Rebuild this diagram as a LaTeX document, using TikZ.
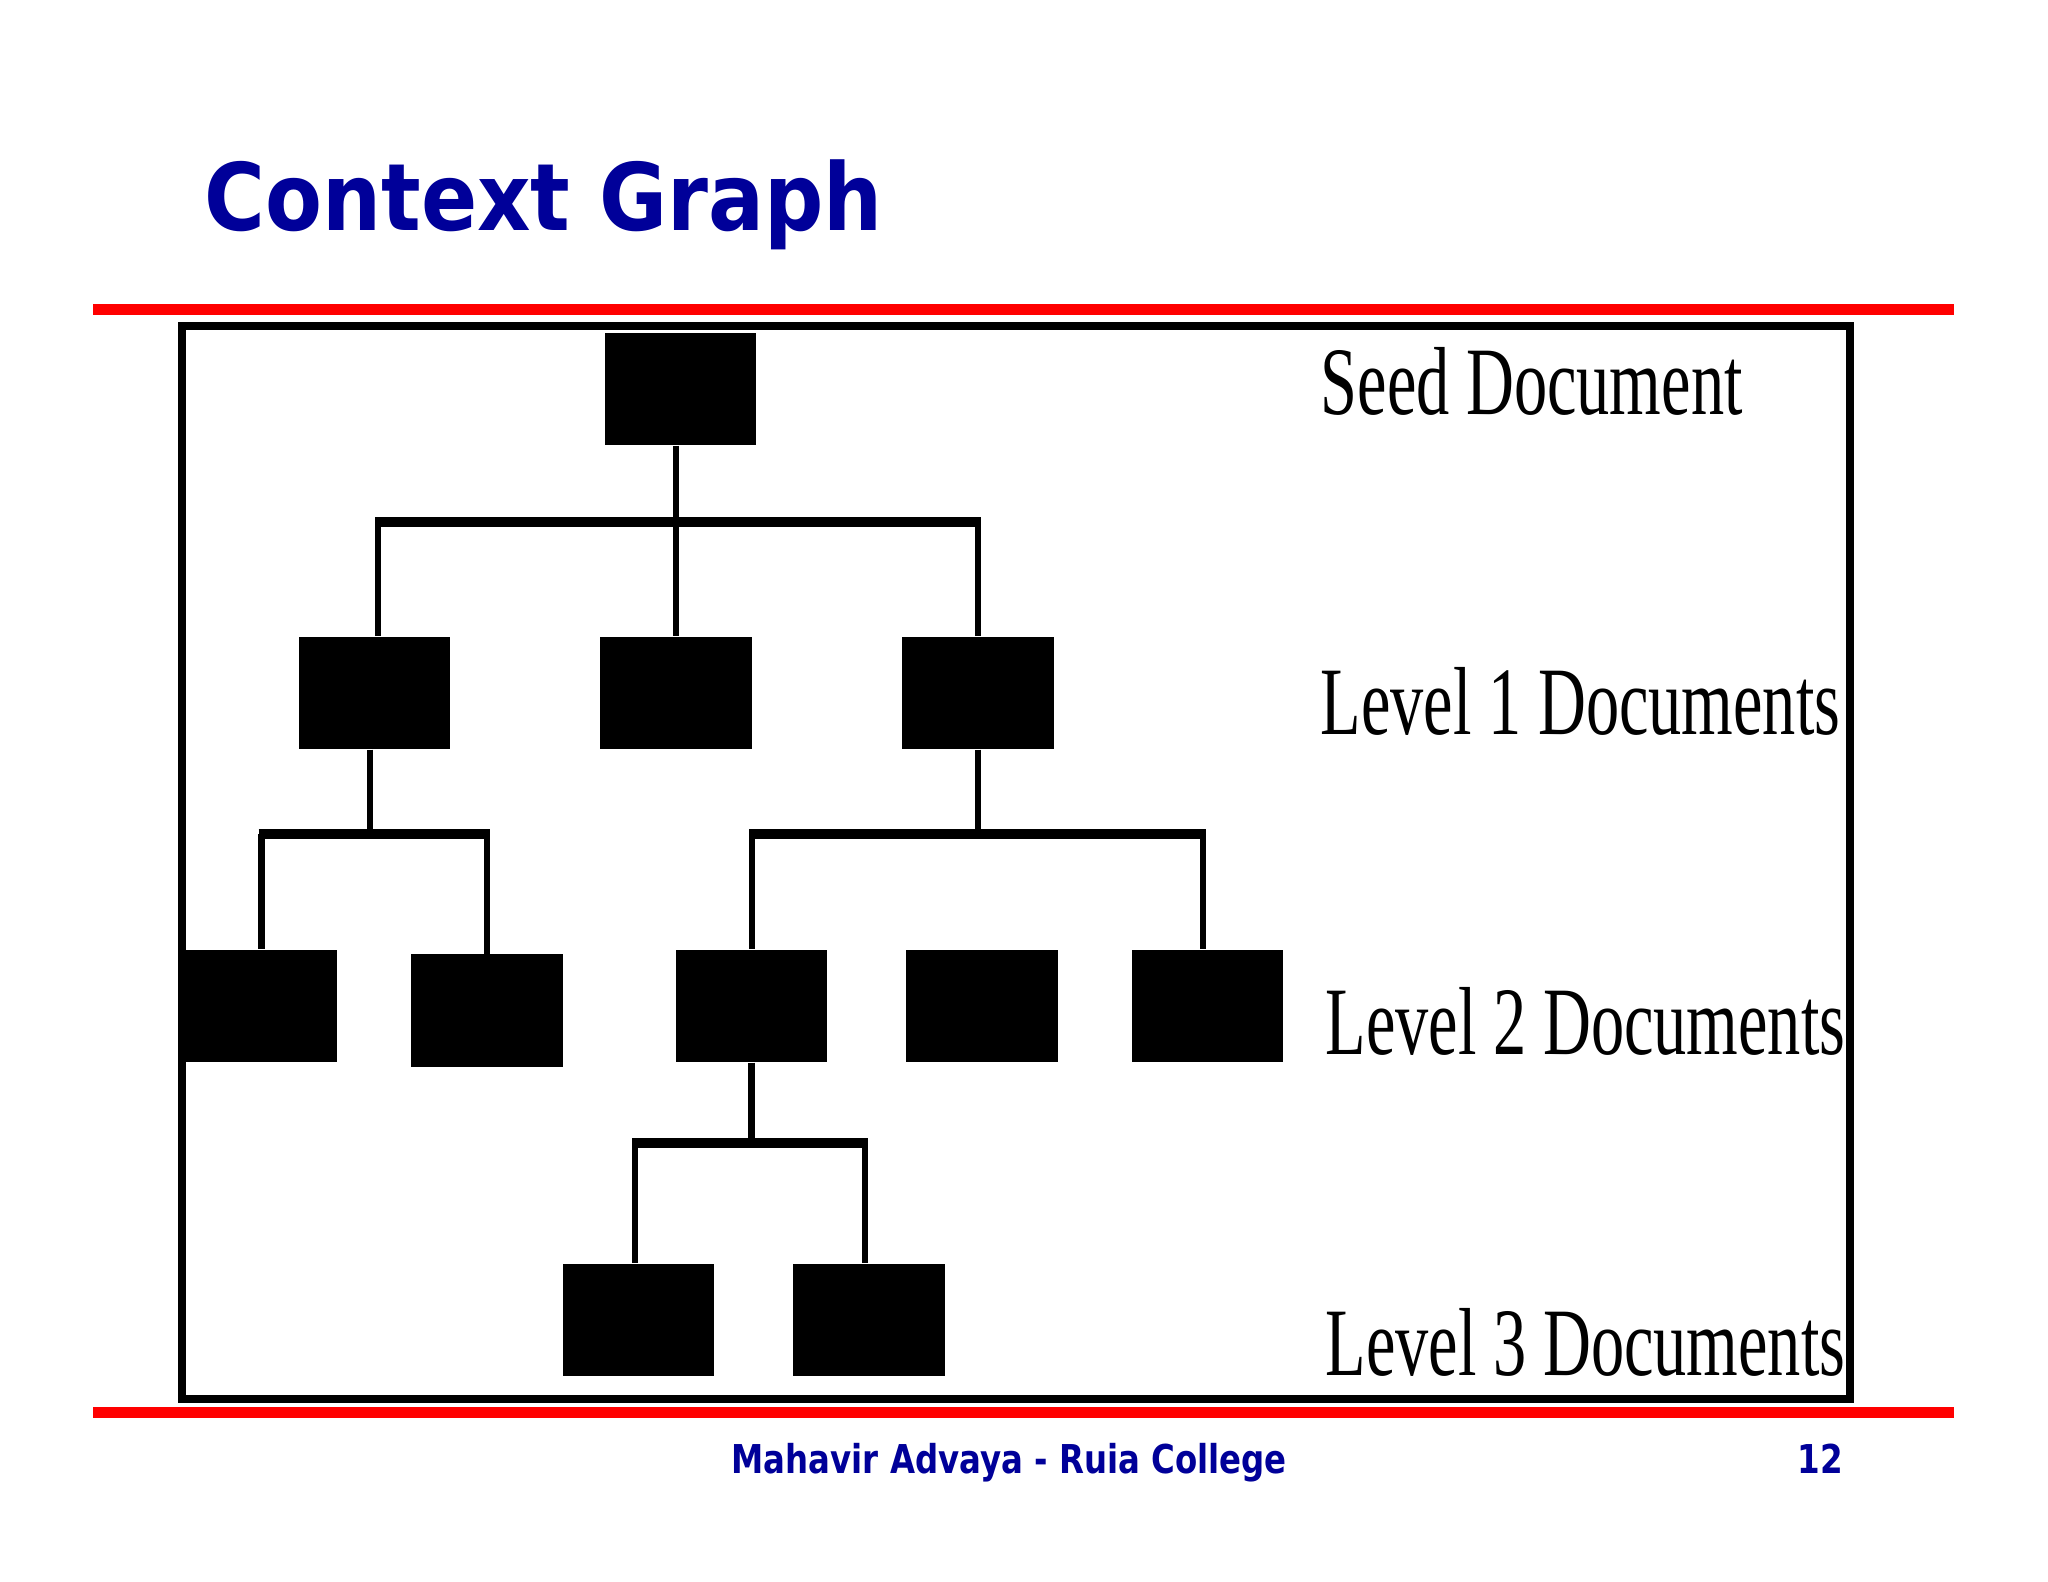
\documentclass[tikz,border=0pt]{standalone}
\usepackage{fontspec}
\setmainfont{Liberation Serif}
\newfontfamily\vfont{DejaVu Sans}
\definecolor{navy}{RGB}{0,0,153}
\definecolor{slidered}{RGB}{255,0,0}
\tikzset{
  doc/.style={rectangle, fill=black, draw=none, inner sep=0pt, minimum width=1.51cm, minimum height=1.12cm},
  stem/.style={line width=0.062cm, line cap=butt},
  bar/.style={line width=0.10cm, line cap=butt},
  lvl/.style={anchor=base west, inner sep=0pt},
  redrule/.style={slidered, line width=0.11cm},
  frame/.style={line width=0.08cm}
}
\newcommand{\lvltext}[1]{\scalebox{0.686}[1]{\fontsize{27.5}{30}\selectfont #1}}
\begin{document}
\begin{tikzpicture}[x=0.01cm, y=-0.01cm]
\useasboundingbox[fill=white] (0,0) rectangle (2048,1582);

% title
\node[anchor=base west, inner sep=0pt, text=navy] (title) at (204,231)
  {\scalebox{0.89}[1]{\vfont\bfseries\fontsize{26.5}{30}\selectfont Context Graph}};

% red rules
\coordinate (rtl) at (93,309.5); \coordinate (rtr) at (1954,309.5);
\coordinate (rbl) at (93,1412);  \coordinate (rbr) at (1954,1412);
\draw[redrule] (rtl) -- (rtr);
\draw[redrule] (rbl) -- (rbr);

% frame
\coordinate (fa) at (182,326); \coordinate (fb) at (1850,1399);
\draw[frame] (fa) rectangle (fb);

% documents
\node[doc] (seed) at (680.5,389) {};
\node[doc] (la) at (374.5,693) {};
\node[doc] (lb) at (676,693) {};
\node[doc] (lc) at (978,693) {};
\node[doc] (ma) at (261.5,1006) {};
\node[doc] (mb) at (487,1010.5) {};
\node[doc] (mc) at (751.5,1006) {};
\node[doc] (md) at (982,1006) {};
\node[doc] (me) at (1207.5,1006) {};
\node[doc] (na) at (638.5,1320) {};
\node[doc] (nb) at (869,1320) {};

% tree 1: seed -> level 1
\coordinate (j1) at (676,522);
\coordinate (j1l) at (378,522);
\coordinate (j1r) at (978,522);
\draw[stem] (j1 |- seed.south) -- (j1);
\draw[bar] ([xshift=-0.03cm]j1l) -- ([xshift=0.03cm]j1r);
\draw[stem] (j1l) -- (j1l |- la.north);
\draw[stem] (j1) -- (j1 |- lb.north);
\draw[stem] (j1r) -- (j1r |- lc.north);

% tree 2: la -> ma, mb
\coordinate (j2) at (370,834);
\coordinate (j2l) at (261.5,834);
\coordinate (j2r) at (487,834);
\draw[stem] (j2 |- la.south) -- (j2);
\draw[bar] ([xshift=-0.03cm]j2l) -- ([xshift=0.03cm]j2r);
\draw[stem] (j2l) -- (j2l |- ma.north);
\draw[stem] (j2r) -- (j2r |- mb.north);

% tree 3: lc -> mc, me
\coordinate (j3) at (978,834);
\coordinate (j3l) at (752,834);
\coordinate (j3r) at (1203,834);
\draw[stem] (j3 |- lc.south) -- (j3);
\draw[bar] ([xshift=-0.03cm]j3l) -- ([xshift=0.03cm]j3r);
\draw[stem] (j3l) -- (j3l |- mc.north);
\draw[stem] (j3r) -- (j3r |- me.north);

% tree 4: mc -> na, nb
\coordinate (j4) at (751.5,1143);
\coordinate (j4l) at (635,1143);
\coordinate (j4r) at (865,1143);
\draw[stem] (j4 |- mc.south) -- (j4);
\draw[bar] ([xshift=-0.03cm]j4l) -- ([xshift=0.03cm]j4r);
\draw[stem] (j4l) -- (j4l |- na.north);
\draw[stem] (j4r) -- (j4r |- nb.north);

% level labels
\node[lvl] (t0) at (1320,414) {\lvltext{Seed Document}};
\node[lvl] (t1) at (1320,734) {\lvltext{Level 1 Documents}};
\node[lvl] (t2) at (1325,1054) {\lvltext{Level 2 Documents}};
\node[lvl] (t3) at (1325,1375) {\lvltext{Level 3 Documents}};

% footer
\node[anchor=base west, inner sep=0pt, text=navy] (foot) at (731,1473)
  {\scalebox{0.815}[1]{\vfont\bfseries\fontsize{11.3}{13}\selectfont Mahavir Advaya - Ruia College}};
\node[anchor=base east, inner sep=0pt, text=navy] (page) at (1844,1473)
  {\scalebox{0.82}[1]{\vfont\bfseries\fontsize{11.3}{13}\selectfont 12}};
\end{tikzpicture}
\end{document}
